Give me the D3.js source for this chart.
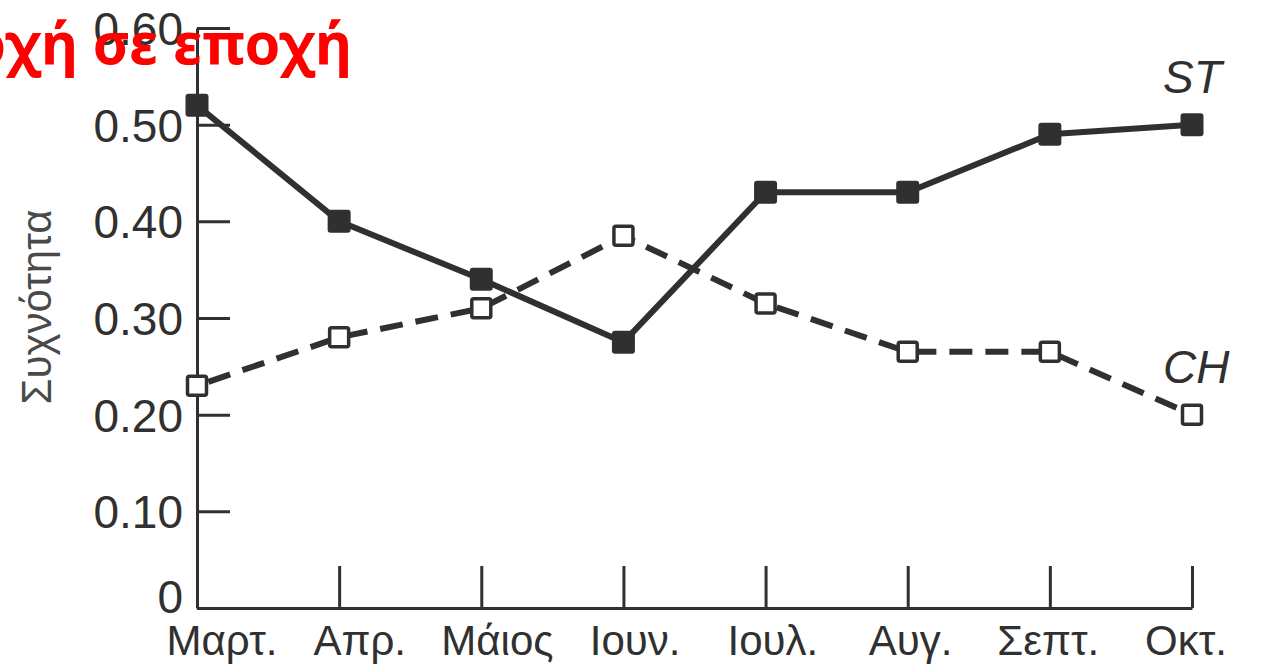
<!DOCTYPE html>
<html>
<head>
<meta charset="utf-8">
<script src="https://cdn.jsdelivr.net/npm/d3@7"></script>
<style>
  html, body { margin: 0; padding: 0; background: #fff; }
  svg { display: block; }
</style>
</head>
<body>
<script>
// Monthly frequencies of two chromosome arrangements (ST, CH)
const months = ["Μαρτ.", "Απρ.", "Μάιος", "Ιουν.", "Ιουλ.", "Αυγ.", "Σεπτ.", "Οκτ."];
const stValues = [0.52, 0.40, 0.34, 0.275, 0.43, 0.43, 0.49, 0.50];
const chValues = [0.23, 0.28, 0.31, 0.385, 0.315, 0.265, 0.265, 0.20];
const yTicks = [0, 0.10, 0.20, 0.30, 0.40, 0.50, 0.60];
const yTickLabels = ["0", "0.10", "0.20", "0.30", "0.40", "0.50", "0.60"];
const seriesNames = ["ST", "CH"];
const yTitle = "Συχνότητα";
const headline = "οχή σε εποχή";

const W = 1263, H = 669;
const ink = "#303030";

const svg = d3.select("body").append("svg")
  .attr("width", W).attr("height", H);

const x = d3.scalePoint().domain(months).range([197, 1192]).padding(0);
const xLabel = d3.scalePoint().domain(months).range([222, 1186]).padding(0);
const y = d3.scaleLinear().domain([0, 0.6]).range([608, 28]);

// y axis: ticks point inward, labels on the left
const yAxis = d3.axisLeft(y)
  .tickValues(yTicks)
  .tickFormat((d, i) => yTickLabels[i])
  .tickSizeInner(-33)
  .tickSizeOuter(0)
  .tickPadding(14);

const gy = svg.append("g").attr("transform", `translate(${x(months[0])},0)`).call(yAxis);
gy.select(".domain").attr("stroke", ink).attr("stroke-width", 3);
gy.selectAll(".tick line").attr("stroke", ink).attr("stroke-width", 3);
gy.selectAll(".tick text")
  .attr("fill", ink)
  .attr("font-family", "Liberation Sans, Arial, sans-serif")
  .attr("font-size", 46)
  .attr("dy", (d) => d === 0 ? "0.1em" : "0.36em");

// x axis: ticks point upward
const xAxis = d3.axisBottom(x)
  .tickSizeInner(-42)
  .tickSizeOuter(0)
  .tickFormat("");
const gx = svg.append("g").attr("transform", `translate(0,${y(0)})`).call(xAxis);
gx.select(".domain").attr("stroke", ink).attr("stroke-width", 3);
gx.selectAll(".tick line").attr("stroke", ink).attr("stroke-width", 3);

// month labels
svg.append("g").selectAll("text")
  .data(months)
  .join("text")
  .attr("x", (d) => xLabel(d))
  .attr("y", 655)
  .attr("text-anchor", "middle")
  .attr("fill", ink)
  .attr("font-family", "Liberation Sans, Arial, sans-serif")
  .attr("font-size", 42)
  .text((d) => d);

// y axis title
svg.append("text")
  .attr("transform", "translate(51,307) rotate(-90)")
  .attr("text-anchor", "middle")
  .attr("fill", "#4a4a4a")
  .attr("font-family", "Liberation Sans, Arial, sans-serif")
  .attr("font-size", 42)
  .text(yTitle);

const line = d3.line()
  .x((d, i) => x(months[i]))
  .y((d) => y(d));

// CH: dashed line, open squares
svg.append("path")
  .datum(chValues)
  .attr("d", line)
  .attr("fill", "none")
  .attr("stroke", ink)
  .attr("stroke-width", 6)
  .attr("stroke-dasharray", "23 13")
  .attr("stroke-dashoffset", -12);

// ST: solid line, filled squares
svg.append("path")
  .datum(stValues)
  .attr("d", line)
  .attr("fill", "none")
  .attr("stroke", ink)
  .attr("stroke-width", 6)
  .attr("stroke-linejoin", "round");

const fs = 23;
svg.append("g").selectAll("rect")
  .data(stValues)
  .join("rect")
  .attr("x", (d, i) => x(months[i]) - fs / 2)
  .attr("y", (d) => y(d) - fs / 2)
  .attr("width", fs).attr("height", fs)
  .attr("rx", 3)
  .attr("fill", ink);

const os = 19;
svg.append("g").selectAll("rect")
  .data(chValues)
  .join("rect")
  .attr("x", (d, i) => x(months[i]) - os / 2)
  .attr("y", (d) => y(d) - os / 2)
  .attr("width", os).attr("height", os)
  .attr("rx", 2)
  .attr("fill", "#fff")
  .attr("stroke", ink)
  .attr("stroke-width", 3.5);

// series names beside the last points
const nameY = [93, 383];
svg.append("g").selectAll("text")
  .data(seriesNames)
  .join("text")
  .attr("x", 1163)
  .attr("y", (d, i) => nameY[i])
  .attr("fill", ink)
  .attr("font-family", "Liberation Sans, Arial, sans-serif")
  .attr("font-style", "italic")
  .attr("font-size", 46)
  .text((d) => d);

// red heading (second line)
svg.append("text")
  .attr("x", 352)
  .attr("y", 64)
  .attr("text-anchor", "end")
  .attr("fill", "#ff0000")
  .attr("font-family", "Noto Sans, DejaVu Sans, sans-serif")
  .attr("font-weight", "bold")
  .attr("font-size", 57.5)
  .text(headline);
</script>
</body>
</html>
